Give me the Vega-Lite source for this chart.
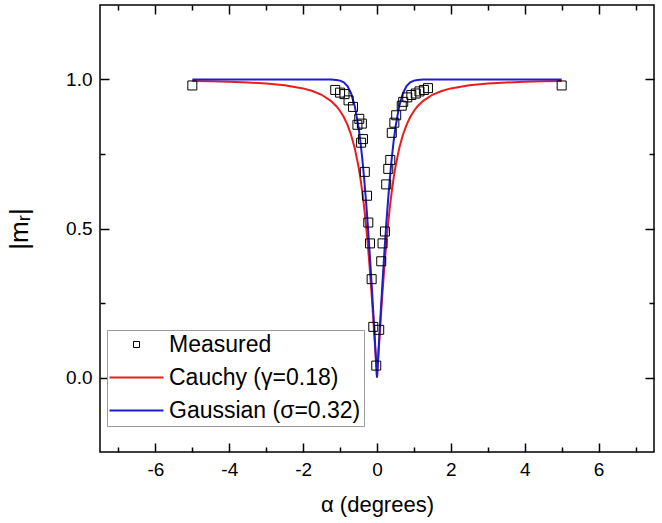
{
  "$schema": "https://vega.github.io/schema/vega-lite/v6.json",
  "width": 554,
  "height": 447,
  "autosize": "none",
  "padding": {"left": 100, "top": 5, "right": 8, "bottom": 71},
  "background": "white",
  "config": {
    "font": "Liberation Sans",
    "view": {"stroke": "black", "strokeWidth": 1.5},
    "axis": {"domain": false, "grid": false, "labelColor": "black", "tickColor": "black", "tickWidth": 1.5, "titleColor": "black", "labelFont": "Liberation Sans", "titleFont": "Liberation Sans", "titleFontWeight": "normal"}
  },
  "datasets": {
    "measured": [
      {"x": -5.0, "y": 0.98, "series": "Measured"},
      {"x": -1.13, "y": 0.965, "series": "Measured"},
      {"x": -1.0, "y": 0.956, "series": "Measured"},
      {"x": -0.88, "y": 0.951, "series": "Measured"},
      {"x": -0.77, "y": 0.93, "series": "Measured"},
      {"x": -0.65, "y": 0.908, "series": "Measured"},
      {"x": -0.48, "y": 0.868, "series": "Measured"},
      {"x": -0.53, "y": 0.848, "series": "Measured"},
      {"x": -0.41, "y": 0.852, "series": "Measured"},
      {"x": -0.38, "y": 0.80, "series": "Measured"},
      {"x": -0.43, "y": 0.788, "series": "Measured"},
      {"x": -0.33, "y": 0.69, "series": "Measured"},
      {"x": -0.27, "y": 0.61, "series": "Measured"},
      {"x": -0.235, "y": 0.52, "series": "Measured"},
      {"x": -0.19, "y": 0.45, "series": "Measured"},
      {"x": -0.145, "y": 0.33, "series": "Measured"},
      {"x": -0.10, "y": 0.17, "series": "Measured"},
      {"x": -0.02, "y": 0.04, "series": "Measured"},
      {"x": 0.06, "y": 0.16, "series": "Measured"},
      {"x": 0.115, "y": 0.39, "series": "Measured"},
      {"x": 0.15, "y": 0.45, "series": "Measured"},
      {"x": 0.215, "y": 0.49, "series": "Measured"},
      {"x": 0.25, "y": 0.648, "series": "Measured"},
      {"x": 0.305, "y": 0.70, "series": "Measured"},
      {"x": 0.36, "y": 0.73, "series": "Measured"},
      {"x": 0.40, "y": 0.821, "series": "Measured"},
      {"x": 0.47, "y": 0.855, "series": "Measured"},
      {"x": 0.52, "y": 0.88, "series": "Measured"},
      {"x": 0.67, "y": 0.912, "series": "Measured"},
      {"x": 0.71, "y": 0.925, "series": "Measured"},
      {"x": 0.82, "y": 0.94, "series": "Measured"},
      {"x": 0.93, "y": 0.948, "series": "Measured"},
      {"x": 1.05, "y": 0.953, "series": "Measured"},
      {"x": 1.15, "y": 0.96, "series": "Measured"},
      {"x": 1.27, "y": 0.965, "series": "Measured"},
      {"x": 1.38, "y": 0.971, "series": "Measured"},
      {"x": 5.0, "y": 0.98, "series": "Measured"}
    ],
    "curves": [
      {"x": -5, "y": 0.9950, "series": "Cauchy (γ=0.18)"},
      {"x": -4.5, "y": 0.9939, "series": "Cauchy (γ=0.18)"},
      {"x": -4, "y": 0.9923, "series": "Cauchy (γ=0.18)"},
      {"x": -3.5, "y": 0.9899, "series": "Cauchy (γ=0.18)"},
      {"x": -3, "y": 0.9864, "series": "Cauchy (γ=0.18)"},
      {"x": -2.5, "y": 0.9806, "series": "Cauchy (γ=0.18)"},
      {"x": -2, "y": 0.9701, "series": "Cauchy (γ=0.18)"},
      {"x": -1.75, "y": 0.9615, "series": "Cauchy (γ=0.18)"},
      {"x": -1.5, "y": 0.9487, "series": "Cauchy (γ=0.18)"},
      {"x": -1.25, "y": 0.9285, "series": "Cauchy (γ=0.18)"},
      {"x": -1.1, "y": 0.9104, "series": "Cauchy (γ=0.18)"},
      {"x": -1.0, "y": 0.8944, "series": "Cauchy (γ=0.18)"},
      {"x": -0.9, "y": 0.8742, "series": "Cauchy (γ=0.18)"},
      {"x": -0.8, "y": 0.8480, "series": "Cauchy (γ=0.18)"},
      {"x": -0.7, "y": 0.8137, "series": "Cauchy (γ=0.18)"},
      {"x": -0.6, "y": 0.7682, "series": "Cauchy (γ=0.18)"},
      {"x": -0.5, "y": 0.7071, "series": "Cauchy (γ=0.18)"},
      {"x": -0.45, "y": 0.6690, "series": "Cauchy (γ=0.18)"},
      {"x": -0.4, "y": 0.6247, "series": "Cauchy (γ=0.18)"},
      {"x": -0.35, "y": 0.5735, "series": "Cauchy (γ=0.18)"},
      {"x": -0.3, "y": 0.5145, "series": "Cauchy (γ=0.18)"},
      {"x": -0.25, "y": 0.4472, "series": "Cauchy (γ=0.18)"},
      {"x": -0.2, "y": 0.3714, "series": "Cauchy (γ=0.18)"},
      {"x": -0.15, "y": 0.2873, "series": "Cauchy (γ=0.18)"},
      {"x": -0.1, "y": 0.1961, "series": "Cauchy (γ=0.18)"},
      {"x": -0.05, "y": 0.0995, "series": "Cauchy (γ=0.18)"},
      {"x": 0, "y": 0, "series": "Cauchy (γ=0.18)"},
      {"x": 0.05, "y": 0.0995, "series": "Cauchy (γ=0.18)"},
      {"x": 0.1, "y": 0.1961, "series": "Cauchy (γ=0.18)"},
      {"x": 0.15, "y": 0.2873, "series": "Cauchy (γ=0.18)"},
      {"x": 0.2, "y": 0.3714, "series": "Cauchy (γ=0.18)"},
      {"x": 0.25, "y": 0.4472, "series": "Cauchy (γ=0.18)"},
      {"x": 0.3, "y": 0.5145, "series": "Cauchy (γ=0.18)"},
      {"x": 0.35, "y": 0.5735, "series": "Cauchy (γ=0.18)"},
      {"x": 0.4, "y": 0.6247, "series": "Cauchy (γ=0.18)"},
      {"x": 0.45, "y": 0.6690, "series": "Cauchy (γ=0.18)"},
      {"x": 0.5, "y": 0.7071, "series": "Cauchy (γ=0.18)"},
      {"x": 0.6, "y": 0.7682, "series": "Cauchy (γ=0.18)"},
      {"x": 0.7, "y": 0.8137, "series": "Cauchy (γ=0.18)"},
      {"x": 0.8, "y": 0.8480, "series": "Cauchy (γ=0.18)"},
      {"x": 0.9, "y": 0.8742, "series": "Cauchy (γ=0.18)"},
      {"x": 1.0, "y": 0.8944, "series": "Cauchy (γ=0.18)"},
      {"x": 1.1, "y": 0.9104, "series": "Cauchy (γ=0.18)"},
      {"x": 1.25, "y": 0.9285, "series": "Cauchy (γ=0.18)"},
      {"x": 1.5, "y": 0.9487, "series": "Cauchy (γ=0.18)"},
      {"x": 1.75, "y": 0.9615, "series": "Cauchy (γ=0.18)"},
      {"x": 2, "y": 0.9701, "series": "Cauchy (γ=0.18)"},
      {"x": 2.5, "y": 0.9806, "series": "Cauchy (γ=0.18)"},
      {"x": 3, "y": 0.9864, "series": "Cauchy (γ=0.18)"},
      {"x": 3.5, "y": 0.9899, "series": "Cauchy (γ=0.18)"},
      {"x": 4, "y": 0.9923, "series": "Cauchy (γ=0.18)"},
      {"x": 4.5, "y": 0.9939, "series": "Cauchy (γ=0.18)"},
      {"x": 5, "y": 0.9950, "series": "Cauchy (γ=0.18)"},
      {"x": -5, "y": 1.0, "series": "Gaussian (σ=0.32)"},
      {"x": -1.5, "y": 1.0, "series": "Gaussian (σ=0.32)"},
      {"x": -1.25, "y": 0.9998, "series": "Gaussian (σ=0.32)"},
      {"x": -1.1, "y": 0.9986, "series": "Gaussian (σ=0.32)"},
      {"x": -1.0, "y": 0.9962, "series": "Gaussian (σ=0.32)"},
      {"x": -0.9, "y": 0.9904, "series": "Gaussian (σ=0.32)"},
      {"x": -0.8, "y": 0.9778, "series": "Gaussian (σ=0.32)"},
      {"x": -0.7, "y": 0.9532, "series": "Gaussian (σ=0.32)"},
      {"x": -0.6, "y": 0.9097, "series": "Gaussian (σ=0.32)"},
      {"x": -0.5, "y": 0.8397, "series": "Gaussian (σ=0.32)"},
      {"x": -0.45, "y": 0.7925, "series": "Gaussian (σ=0.32)"},
      {"x": -0.4, "y": 0.7363, "series": "Gaussian (σ=0.32)"},
      {"x": -0.35, "y": 0.6709, "series": "Gaussian (σ=0.32)"},
      {"x": -0.3, "y": 0.5963, "series": "Gaussian (σ=0.32)"},
      {"x": -0.25, "y": 0.5128, "series": "Gaussian (σ=0.32)"},
      {"x": -0.2, "y": 0.4212, "series": "Gaussian (σ=0.32)"},
      {"x": -0.15, "y": 0.3225, "series": "Gaussian (σ=0.32)"},
      {"x": -0.1, "y": 0.2183, "series": "Gaussian (σ=0.32)"},
      {"x": -0.05, "y": 0.1101, "series": "Gaussian (σ=0.32)"},
      {"x": 0, "y": 0, "series": "Gaussian (σ=0.32)"},
      {"x": 0.05, "y": 0.1101, "series": "Gaussian (σ=0.32)"},
      {"x": 0.1, "y": 0.2183, "series": "Gaussian (σ=0.32)"},
      {"x": 0.15, "y": 0.3225, "series": "Gaussian (σ=0.32)"},
      {"x": 0.2, "y": 0.4212, "series": "Gaussian (σ=0.32)"},
      {"x": 0.25, "y": 0.5128, "series": "Gaussian (σ=0.32)"},
      {"x": 0.3, "y": 0.5963, "series": "Gaussian (σ=0.32)"},
      {"x": 0.35, "y": 0.6709, "series": "Gaussian (σ=0.32)"},
      {"x": 0.4, "y": 0.7363, "series": "Gaussian (σ=0.32)"},
      {"x": 0.45, "y": 0.7925, "series": "Gaussian (σ=0.32)"},
      {"x": 0.5, "y": 0.8397, "series": "Gaussian (σ=0.32)"},
      {"x": 0.6, "y": 0.9097, "series": "Gaussian (σ=0.32)"},
      {"x": 0.7, "y": 0.9532, "series": "Gaussian (σ=0.32)"},
      {"x": 0.8, "y": 0.9778, "series": "Gaussian (σ=0.32)"},
      {"x": 0.9, "y": 0.9904, "series": "Gaussian (σ=0.32)"},
      {"x": 1.0, "y": 0.9962, "series": "Gaussian (σ=0.32)"},
      {"x": 1.1, "y": 0.9986, "series": "Gaussian (σ=0.32)"},
      {"x": 1.25, "y": 0.9998, "series": "Gaussian (σ=0.32)"},
      {"x": 1.5, "y": 1.0, "series": "Gaussian (σ=0.32)"},
      {"x": 5, "y": 1.0, "series": "Gaussian (σ=0.32)"}
    ]
  },
  "layer": [
    {
      "data": {"name": "curves"},
      "mark": {"type": "line", "strokeWidth": 2},
      "encoding": {
        "x": {
          "field": "x", "type": "quantitative",
          "scale": {"domain": [-7.5, 7.5], "nice": false, "zero": false},
          "axis": {
            "orient": "bottom",
            "values": [-7, -6, -5, -4, -3, -2, -1, 0, 1, 2, 3, 4, 5, 6, 7],
            "tickSize": {"condition": {"test": "datum.value % 2 !== 0", "value": -5}, "value": -9},
            "labelExpr": "datum.value % 2 === 0 ? '' + datum.value : ''",
            "labelFontSize": 19,
            "labelPadding": 17,
            "title": "α (degrees)",
            "titleFontSize": 22,
            "titlePadding": 15
          }
        },
        "y": {
          "field": "y", "type": "quantitative",
          "scale": {"domain": [-0.25, 1.25], "nice": false, "zero": false},
          "axis": {
            "orient": "left",
            "values": [0, 0.25, 0.5, 0.75, 1.0],
            "tickSize": {"condition": {"test": "abs(datum.value*2 - round(datum.value*2)) > 0.001", "value": -5}, "value": -9},
            "labelExpr": "abs(datum.value*2 - round(datum.value*2)) < 0.001 ? format(datum.value, '.1f') : ''",
            "labelFontSize": 19,
            "labelPadding": 17,
            "title": "|mᵣ|",
            "titleFontSize": 26,
            "titlePadding": 33
          }
        },
        "color": {
          "field": "series", "type": "nominal",
          "scale": {
            "domain": ["Measured", "Cauchy (γ=0.18)", "Gaussian (σ=0.32)"],
            "range": ["black", "#ea1c1c", "#1c1cd4"]
          },
          "legend": {
            "title": null,
            "orient": "none",
            "legendX": 7,
            "legendY": 325,
            "padding": 3,
            "strokeColor": "#9a9a9a",
            "fillColor": "white",
            "symbolSize": 400,
            "symbolStrokeWidth": 2,
            "rowPadding": 9,
            "labelFontSize": 23,
            "labelLimit": 400,
            "labelColor": "black",
            "labelOffset": 36,
            "encode": {
              "symbols": {
                "update": {
                  "shape": {"signal": "datum.value === 'Measured' ? 'M1.2,-0.3H1.8V0.3H1.2Z' : 'M-1.2,0H4.2'"},
                  "strokeWidth": {"signal": "datum.value === 'Measured' ? 1 : 2"},
                  "fill": {"value": "transparent"},
                  "stroke": {"signal": "datum.value === 'Measured' ? 'black' : (datum.value === 'Gaussian (σ=0.32)' ? '#1c1cd4' : '#ea1c1c')"}
                }
              }
            }
          }
        }
      }
    },
    {
      "data": {"name": "measured"},
      "mark": {"type": "point", "shape": "square", "filled": false, "size": 81, "strokeWidth": 1, "opacity": 1},
      "encoding": {
        "x": {
          "field": "x", "type": "quantitative",
          "axis": {
            "orient": "top",
            "values": [-7, -6, -5, -4, -3, -2, -1, 0, 1, 2, 3, 4, 5, 6, 7],
            "tickSize": {"condition": {"test": "datum.value % 2 !== 0", "value": -5}, "value": -9},
            "labels": false,
            "title": null
          }
        },
        "y": {
          "field": "y", "type": "quantitative",
          "axis": {
            "orient": "right",
            "values": [0, 0.25, 0.5, 0.75, 1.0],
            "tickSize": {"condition": {"test": "abs(datum.value*2 - round(datum.value*2)) > 0.001", "value": -5}, "value": -9},
            "labels": false,
            "title": null
          }
        },
        "color": {"field": "series", "type": "nominal"}
      }
    }
  ],
  "resolve": {"axis": {"x": "independent", "y": "independent"}}
}
